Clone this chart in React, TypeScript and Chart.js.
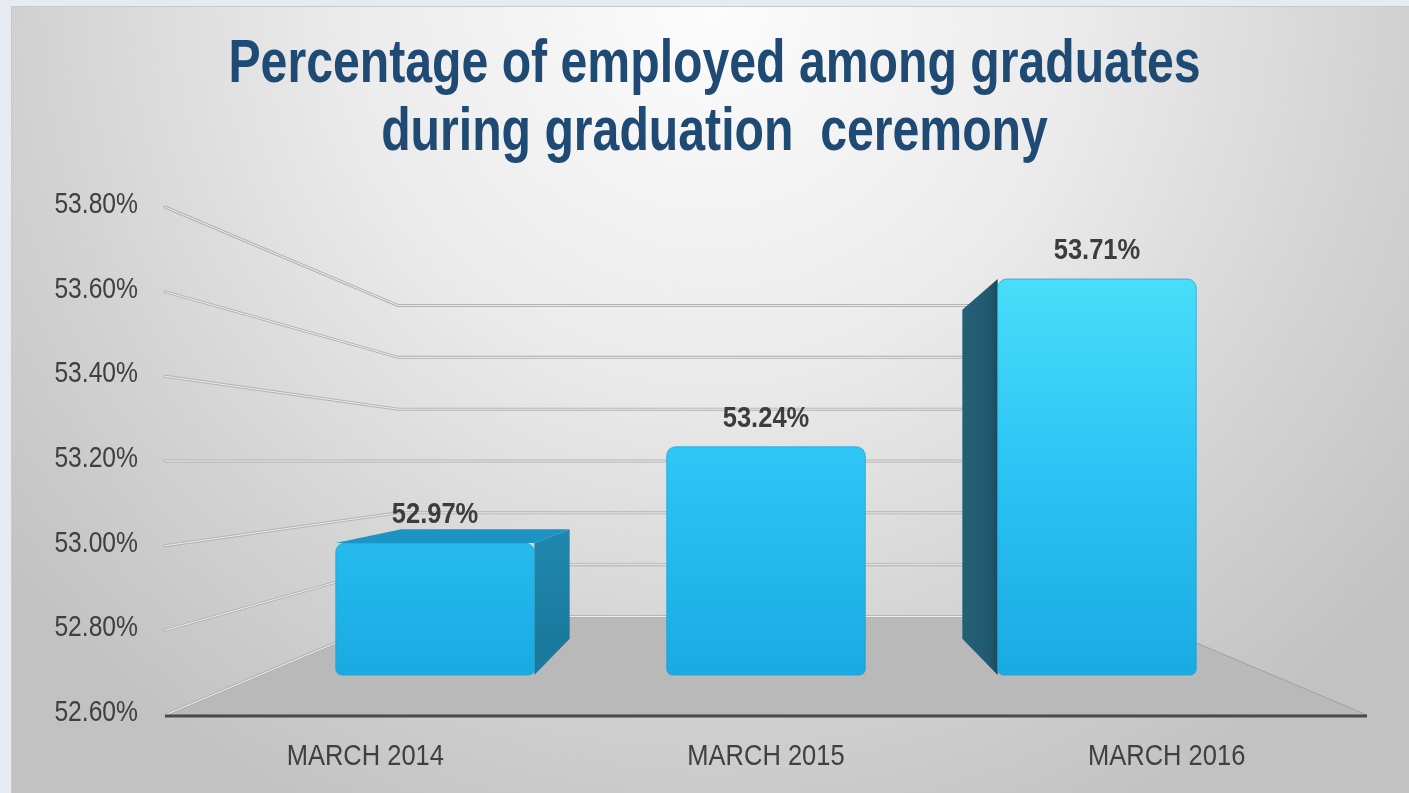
import React, { useEffect, useRef } from "react";
import { Chart, registerables } from "chart.js";

Chart.register(...registerables);

const TITLE_LINES = ["Percentage of employed among graduates", "during graduation  ceremony"];
const CATEGORIES = ["MARCH 2014", "MARCH 2015", "MARCH 2016"];
const EMPLOYED_PCT = [52.97, 53.24, 53.71];
const Y_MIN = 52.6;
const Y_MAX = 53.8;
const Y_STEP = 0.2;

const FONT = '"Liberation Sans", Arial, sans-serif';
const NARROW = 0.85; // horizontal squeeze to emulate a narrow face
const NARROW_TITLE = 0.79;

// perspective factors (front plane = 1)
const S_WALL = 0.612;
const S_BAR_FRONT_X = 0.826;
const S_BAR_FRONT_Y = 0.843;
const S_BAR_BACK = 0.7;

const fmt = (v: number) => v.toFixed(2) + "%";

function narrowText(ctx: any, text: string, x: number, y: number, font: string, color: string, align: string, baseline: string, k = NARROW) {
  ctx.save();
  ctx.font = font;
  ctx.fillStyle = color;
  ctx.textAlign = align;
  ctx.textBaseline = baseline;
  ctx.translate(x, y);
  ctx.scale(k, 1);
  ctx.fillText(text, 0, 0);
  ctx.restore();
}

const box3d = {
  id: "box3d",
  beforeDatasetsDraw(chart: any) {
    const { ctx, chartArea: a, scales } = chart;
    const ys = scales.y;
    const xs = scales.x;
    const vx = (a.left + a.right) / 2;
    const vy = (a.top + a.bottom) / 2;
    const P = (x: number, y: number, sx: number, sy = sx) => [vx + (x - vx) * sx, vy + (y - vy) * sy];
    const base = ys.getPixelForValue(ys.min);
    ctx.save();
    // floor
    const f = [P(a.left, base, 1), P(a.right, base, 1), P(a.right, base, S_WALL), P(a.left, base, S_WALL)];
    ctx.beginPath();
    ctx.moveTo(f[0][0], f[0][1]);
    for (let i = 1; i < 4; i++) ctx.lineTo(f[i][0], f[i][1]);
    ctx.closePath();
    ctx.fillStyle = "#b9b9b9";
    ctx.fill();
    ctx.strokeStyle = "#a0a0a0";
    ctx.lineWidth = 1;
    ctx.stroke();
    // grid lines (left wall + back wall)
    ys.ticks.forEach((t: any) => {
      const y = ys.getPixelForValue(t.value);
      const p1 = P(a.left, y, S_WALL);
      const p2 = P(a.right, y, S_WALL);
      ctx.beginPath();
      ctx.moveTo(a.left, y);
      ctx.lineTo(p1[0], p1[1]);
      ctx.lineTo(p2[0], p2[1]);
      ctx.lineJoin = "round";
      ctx.lineCap = "round";
      ctx.strokeStyle = "#b2b2b2";
      ctx.lineWidth = 3;
      ctx.stroke();
      ctx.strokeStyle = "#eeeeee";
      ctx.lineWidth = 1;
      ctx.stroke();
    });
    // front edge
    ctx.beginPath();
    ctx.moveTo(a.left, base + 1);
    ctx.lineTo(a.right, base + 1);
    ctx.strokeStyle = "#4a4a4a";
    ctx.lineWidth = 3;
    ctx.lineCap = "butt";
    ctx.stroke();
    ctx.restore();

    // axis labels
    ys.ticks.forEach((t: any) => {
      narrowText(ctx, fmt(t.value), a.left - 27, ys.getPixelForValue(t.value) - 2, "29px " + FONT, "#404040", "right", "middle");
    });
    chart.data.labels.forEach((lab: string, i: number) => {
      narrowText(ctx, lab, xs.getPixelForTick(i), a.bottom + 50, "30px " + FONT, "#404040", "center", "alphabetic");
    });
    // title
    TITLE_LINES.forEach((line, i) => {
      narrowText(ctx, line, chart.width / 2 + 10, 82 + i * 68, "bold 61px " + FONT, "#1f4a73", "center", "alphabetic", NARROW_TITLE);
    });
  },
  afterDatasetsDraw(chart: any) {
    const { ctx, chartArea: a } = chart;
    const vx = (a.left + a.right) / 2;
    const vy = (a.top + a.bottom) / 2;
    const PF = (x: number, y: number) => [vx + (x - vx) * S_BAR_FRONT_X, vy + (y - vy) * S_BAR_FRONT_Y];
    const PB = (x: number, y: number) => [vx + (x - vx) * S_BAR_BACK, vy + (y - vy) * S_BAR_BACK];
    const meta = chart.getDatasetMeta(0);
    const vals = chart.data.datasets[0].data;
    const poly = (pts: number[][], fill: any) => {
      ctx.beginPath();
      ctx.moveTo(pts[0][0], pts[0][1]);
      for (let i = 1; i < pts.length; i++) ctx.lineTo(pts[i][0], pts[i][1]);
      ctx.closePath();
      ctx.fillStyle = fill;
      ctx.fill();
    };
    ctx.save();
    meta.data.forEach((bar: any, i: number) => {
      const { x, y, base, width } = bar.getProps(["x", "y", "base", "width"], true);
      const xl = x - width / 2;
      const xr = x + width / 2;
      if (xl > vx) {
        const pts = [PF(xl, y), PB(xl, y), PB(xl, base), PF(xl, base)];
        const g = ctx.createLinearGradient(pts[1][0], 0, pts[0][0], 0);
        g.addColorStop(0, "#255f76");
        g.addColorStop(0.75, "#215a70");
        g.addColorStop(1, "#1a4a5e");
        poly(pts, g);
      }
      if (xr < vx) {
        const pts = [PF(xr, y), PB(xr, y), PB(xr, base), PF(xr, base)];
        const g = ctx.createLinearGradient(0, pts[1][1], 0, pts[2][1]);
        g.addColorStop(0, "#2088ad");
        g.addColorStop(1, "#1a7a9e");
        poly(pts, g);
      }
      if (y > vy) {
        poly([PF(xl, y), PF(xr, y), PB(xr, y), PB(xl, y)], "#1c93c3");
      }
      const tl = PF(xl, y);
      const br = PF(xr, base);
      const g = ctx.createLinearGradient(0, a.top + 60, 0, br[1]);
      g.addColorStop(0, "#4adffa");
      g.addColorStop(0.5, "#2dc3f4");
      g.addColorStop(1, "#19aae2");
      ctx.beginPath();
      ctx.roundRect(tl[0], tl[1], br[0] - tl[0], br[1] - tl[1], [9, 9, 6, 6]);
      ctx.fillStyle = g;
      ctx.fill();
      ctx.strokeStyle = "rgba(25,160,210,0.7)";
      ctx.lineWidth = 1;
      ctx.stroke();
      // value label
      const lp = PF(x, y);
      narrowText(ctx, fmt(vals[i]), lp[0], lp[1] - 20, "bold 30px " + FONT, "#3c3c3c", "center", "alphabetic");
    });
    ctx.restore();
  },
};

export default function App() {
  const ref = useRef<HTMLCanvasElement>(null);
  useEffect(() => {
    const chart = new Chart(ref.current!, {
      type: "bar",
      data: {
        labels: CATEGORIES,
        datasets: [
          {
            label: "Employed",
            data: EMPLOYED_PCT,
            base: Y_MIN,
            backgroundColor: "rgba(0,0,0,0)",
            borderWidth: 0,
            barPercentage: 0.6,
            categoryPercentage: 1,
          },
        ],
      },
      options: {
        animation: false,
        responsive: true,
        maintainAspectRatio: false,
        layout: { padding: { left: 63, right: 42, top: 207, bottom: 0 } },
        plugins: {
          legend: { display: false },
          tooltip: { enabled: false },
          title: { display: false },
        },
        scales: {
          y: {
            min: Y_MIN,
            max: Y_MAX,
            ticks: { stepSize: Y_STEP, display: false },
            grid: { display: false, drawTicks: false },
            border: { display: false },
            afterFit: (s: any) => {
              s.width = 102;
            },
          },
          x: {
            ticks: { display: false },
            grid: { display: false, drawTicks: false },
            border: { display: false },
            afterFit: (s: any) => {
              s.height = 78;
            },
          },
        },
      },
      plugins: [box3d],
    });
    return () => chart.destroy();
  }, []);

  return (
    <div style={{ position: "fixed", left: 0, top: 0, width: 1409, height: 793, background: "#e6ebf3", overflow: "hidden" }}>
      <div
        style={{
          position: "absolute",
          left: 11,
          top: 6,
          width: 1398,
          height: 787,
          borderTop: "1px solid #c9c9c9",
          borderLeft: "1px solid #c9c9c9",
          background: "radial-gradient(ellipse 65% 115% at 50% 0%, #fcfcfc 0%, #ebebeb 40%, #d4d4d4 72%, #c2c2c2 100%)",
        }}
      />
      <div style={{ position: "absolute", left: 0, top: 0, width: 1409, height: 793 }}>
        <canvas ref={ref} />
      </div>
    </div>
  );
}
